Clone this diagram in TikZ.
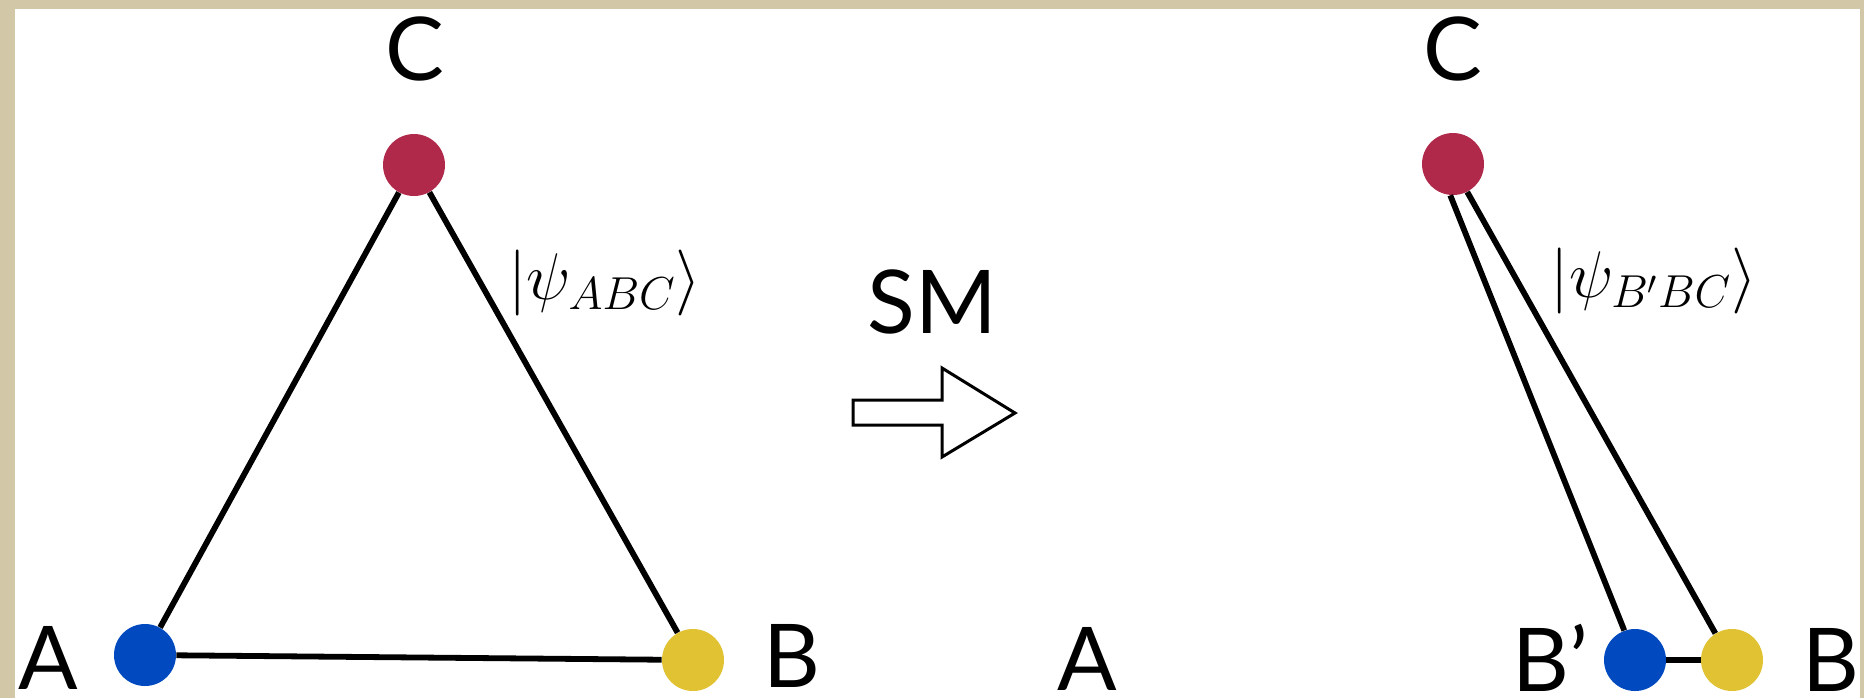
\RequirePackage{fix-cm}
\documentclass[tikz,border=0pt]{standalone}
\usepackage[no-math]{fontspec}
\setmainfont{Lato}
\definecolor{parch}{HTML}{D2C7A6}
\definecolor{dotred}{HTML}{B0284A}
\definecolor{dotblue}{HTML}{0049BF}
\definecolor{dotyellow}{HTML}{E0C232}
\tikzset{
  dot/.style={circle, minimum size=31pt, inner sep=0pt, draw=none},
  lab/.style={anchor=base, inner sep=0pt, font=\fontsize{44}{50}\selectfont},
  ket/.style={inner sep=0pt, font=\fontsize{33}{40}\selectfont},
  bond/.style={line width=2.9pt},
}
\begin{document}
\begin{tikzpicture}[x=0.5pt, y=-0.5pt]
\useasboundingbox (0,0) rectangle (1864,698);
\fill[parch] (0,0) rectangle (1864,698);
\fill[white] (15,9) rectangle (1860,698);

% left triangle
\node[dot, fill=dotred] (C1) at (414,165) {};
\node[dot, fill=dotblue] (A1) at (145,655) {};
\node[dot, fill=dotyellow] (B1) at (693,660) {};
\draw[bond] (A1) -- (C1);
\draw[bond] (C1) -- (B1);
\draw[bond] (A1) -- (B1);
\node[lab] (C1lab) at (415,80) {C};
\node[lab] (A1lab) at (48,689) {A};
\node[lab] (B1lab) at (792,687) {B};
\node[ket] (psi1) at (605,283) {$|\psi_{ABC}\rangle$};

% middle
\node[lab] (SM) at (932,333) {SM};
\draw[line width=1.5pt, line join=miter] (853,400) -- (942,400) -- (942,368) -- (1015,413) -- (942,457) -- (942,425) -- (853,425) -- cycle;

% right
\node[dot, fill=dotred] (C2) at (1453,164) {};
\node[dot, fill=dotblue] (Bp) at (1635,660) {};
\node[dot, fill=dotyellow] (B2) at (1732,660) {};
\draw[bond] (C2.-95) -- (Bp.110);
\draw[bond] (C2.-63) -- (B2.122);
\draw[bond] (Bp) -- (B2);
\node[lab] (C2lab) at (1453,80) {C};
\node[lab] (A2lab) at (1087,690) {A};
\node[lab] (Bplab) at (1550,691) {B’};
\node[lab] (B2lab) at (1831,691) {B};
\node[ket] (psi2) at (1654,281) {$|\psi_{B'BC}\rangle$};
\end{tikzpicture}
\end{document}
